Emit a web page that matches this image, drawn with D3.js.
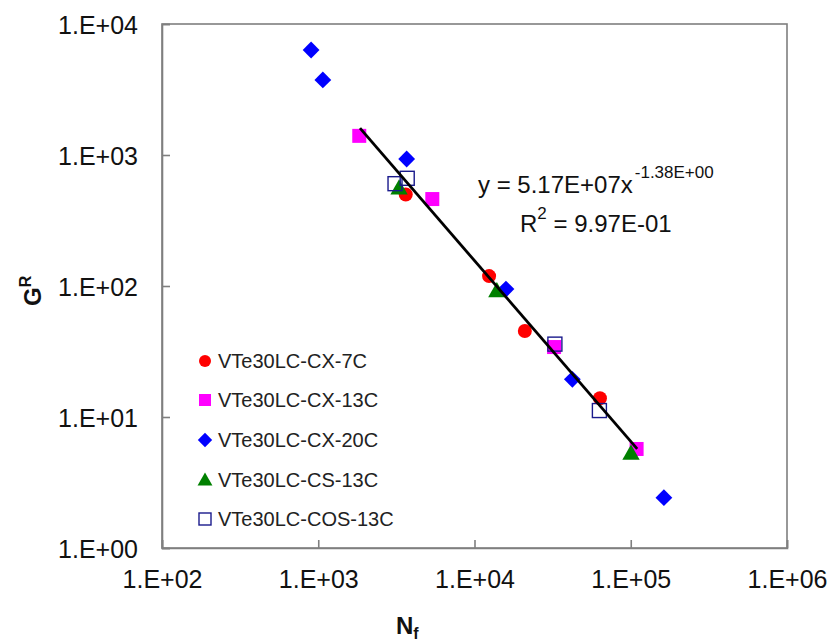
<!DOCTYPE html>
<html>
<head>
<meta charset="utf-8">
<script src="https://cdn.jsdelivr.net/npm/d3@7"></script>
<style>
  body { margin: 0; background: #fff; }
  svg { display: block; font-family: "Liberation Sans", Arial, sans-serif; }
</style>
</head>
<body>
<svg id="chart" width="830" height="641"></svg>
<script>
// ---- data ----
const seriesNames = ["VTe30LC-CX-7C", "VTe30LC-CX-13C", "VTe30LC-CX-20C", "VTe30LC-CS-13C", "VTe30LC-COS-13C"];
const cx7cN  = [3630, 12400, 21000, 63500];
const cx7cG  = [500, 119, 45.3, 13.9];
const cx13cN = [1830, 5370, 32300, 109000];
const cx13cG = [1400, 461, 34.2, 5.7];
const cx20cN = [900, 1070, 3680, 15900, 42300, 163000];
const cx20cG = [6330, 3740, 932, 94.8, 19.4, 2.42];
const cs13cN = [3290, 13900, 100400];
const cs13cG = [560, 92, 5.3];
const cos13cN = [3100, 3710, 32700, 63000];
const cos13cG = [604, 664, 36, 11.2];
const trendCoef = [5.17e7, -1.38];   // y = a * x^b (equation shown on the chart)
const trendRange = [1850, 110000];
const xTicks = [1e2, 1e3, 1e4, 1e5, 1e6];
const yTicks = [1e0, 1e1, 1e2, 1e3, 1e4];
const xTickLabels = ["1.E+02", "1.E+03", "1.E+04", "1.E+05", "1.E+06"];
const yTickLabels = ["1.E+00", "1.E+01", "1.E+02", "1.E+03", "1.E+04"];

const series = [
  {name: seriesNames[0], N: cx7cN, G: cx7cG, shape: "circle", fill: "#ff0000", stroke: "none"},
  {name: seriesNames[1], N: cx13cN, G: cx13cG, shape: "square", fill: "#ff00ff", stroke: "none"},
  {name: seriesNames[2], N: cx20cN, G: cx20cG, shape: "diamond", fill: "#0000ff", stroke: "none"},
  {name: seriesNames[3], N: cs13cN, G: cs13cG, shape: "triangle", fill: "#008000", stroke: "none"},
  {name: seriesNames[4], N: cos13cN, G: cos13cG, shape: "opensquare", fill: "none", stroke: "#1a1a8c"}
];

// ---- layout ----
const svg = d3.select("#chart");
const L = 162, R = 787, T = 24, B = 548;
const x = d3.scaleLog().domain([1e2, 1e6]).range([L, R]);
const y = d3.scaleLog().domain([1e0, 1e4]).range([B, T]);
const frameColor = "#7f7f7f";

// frame
svg.append("rect").attr("x", L).attr("y", T).attr("width", R - L).attr("height", B - T)
  .attr("fill", "none").attr("stroke", frameColor).attr("stroke-width", 1.6);

// axes (inner ticks)
const xAxis = d3.axisBottom(x).tickValues(xTicks).tickSize(-8).tickPadding(22)
  .tickFormat((d, i) => xTickLabels[i]);
const gx = svg.append("g").attr("transform", `translate(0,${B})`).call(xAxis);
const yAxis = d3.axisLeft(y).tickValues(yTicks).tickSize(-8).tickPadding(24)
  .tickFormat((d, i) => yTickLabels[i]);
const gy = svg.append("g").attr("transform", `translate(${L},0)`).call(yAxis);
[gx, gy].forEach(g => {
  g.select(".domain").attr("stroke", frameColor).attr("stroke-width", 1.6);
  g.selectAll(".tick line").attr("stroke", frameColor).attr("stroke-width", 1.6);
  g.selectAll(".tick text").attr("font-size", 25).attr("fill", "#111")
    .attr("font-family", "Liberation Sans, Arial, sans-serif");
});
gy.selectAll(".tick text").attr("dy", "0.36em");

// marker drawing
function drawMarker(g, shape, cxp, cyp, s, fill, stroke) {
  if (shape === "circle") {
    g.append("circle").attr("cx", cxp).attr("cy", cyp).attr("r", s / 2).attr("fill", fill);
  } else if (shape === "square") {
    g.append("rect").attr("x", cxp - s / 2).attr("y", cyp - s / 2).attr("width", s).attr("height", s).attr("fill", fill);
  } else if (shape === "diamond") {
    const h = s * 0.6;
    g.append("path").attr("d", `M${cxp},${cyp - h}L${cxp + h},${cyp}L${cxp},${cyp + h}L${cxp - h},${cyp}Z`).attr("fill", fill);
  } else if (shape === "triangle") {
    const w = s * 0.62;
    g.append("path").attr("d", `M${cxp},${cyp - w}L${cxp + w},${cyp + w * 0.75}L${cxp - w},${cyp + w * 0.75}Z`).attr("fill", fill);
  } else if (shape === "opensquare") {
    g.append("rect").attr("x", cxp - s / 2).attr("y", cyp - s / 2).attr("width", s).attr("height", s)
      .attr("fill", "none").attr("stroke", stroke).attr("stroke-width", 1.4);
  }
}

// points
const gp = svg.append("g");
series.forEach(s => {
  s.N.forEach((n, i) => drawMarker(gp, s.shape, x(n), y(s.G[i]), 14, s.fill, s.stroke));
});

// trend line (on top of markers)
const [a, b] = trendCoef;
const trendPts = trendRange.map(n => [n, a * Math.pow(n, b)]);
svg.append("path")
  .attr("d", d3.line().x(d => x(d[0])).y(d => y(d[1]))(trendPts))
  .attr("fill", "none").attr("stroke", "#000").attr("stroke-width", 2.8);

// equation
const eq = svg.append("text").attr("font-size", 24).attr("fill", "#111");
eq.append("tspan").attr("x", 478).attr("y", 193).text("y = 5.17E+07x");
eq.append("tspan").attr("font-size", 17).attr("dy", -15).attr("dx", 2).text("-1.38E+00");
const r2 = svg.append("text").attr("font-size", 24).attr("fill", "#111");
r2.append("tspan").attr("x", 520).attr("y", 232).text("R");
r2.append("tspan").attr("font-size", 17).attr("dy", -13).text("2");
r2.append("tspan").attr("dy", 13).text(" = 9.97E-01");

// legend
const legY = [361, 400, 440, 480, 519];
const lg = svg.append("g");
series.forEach((s, i) => {
  drawMarker(lg, s.shape, 205, legY[i], 12, s.fill, s.stroke);
  lg.append("text").attr("x", 218).attr("y", legY[i]).attr("dy", "0.36em")
    .attr("font-size", 20).attr("fill", "#222").text(s.name);
});

// axis titles
const xt = svg.append("text").attr("x", 396).attr("y", 634).attr("font-size", 24)
  .attr("font-weight", "bold").attr("fill", "#111");
xt.append("tspan").text("N");
xt.append("tspan").attr("font-size", 16).attr("dy", 5).text("f");

const yt = svg.append("text").attr("transform", "translate(41,306) rotate(-90)")
  .attr("font-size", 24).attr("font-weight", "bold").attr("fill", "#111");
yt.append("tspan").text("G");
yt.append("tspan").attr("font-size", 16).attr("dy", -10).text("R");
</script>
</body>
</html>
